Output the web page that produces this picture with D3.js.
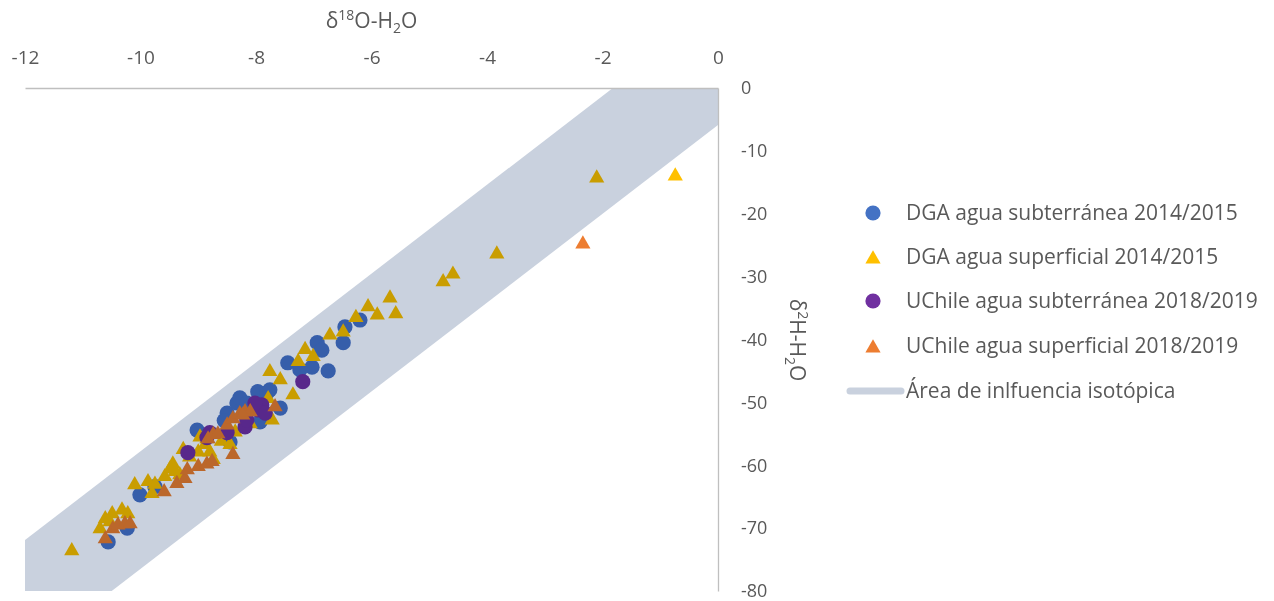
<!DOCTYPE html>
<html>
<head>
<meta charset="utf-8">
<script src="https://cdn.jsdelivr.net/npm/d3@7"></script>
<style>
  html, body { margin: 0; padding: 0; background: #fff; }
  text { font-family: "Open Sans", "Noto Sans", sans-serif; fill: #595959; }
</style>
</head>
<body>
<svg id="chart" width="1274" height="601"></svg>
<script>
// δ18O (x) and δ2H (y) of each sample, per campaign
const dgaSubX = [-10.56,-10.23,-10.01,-9.75,-9.02,-8.50,-8.33,-8.28,-8.16,-7.97,-7.81,-8.02,-7.58,-7.93,-8.45,-7.45,-7.24,-7.03,-6.75,-6.94,-6.86,-6.49,-6.46,-6.20,-7.76,-8.55];
const dgaSubY = [-72.2,-70.0,-64.7,-63.4,-54.4,-51.7,-50.1,-49.3,-50.1,-48.3,-48.5,-50.9,-50.9,-53.1,-56.3,-43.7,-44.8,-44.4,-45.0,-40.5,-41.7,-40.5,-38.0,-36.9,-48.0,-52.9];

const dgaSupX = [-11.19,-10.70,-10.61,-10.53,-10.49,-10.32,-10.22,-10.10,-9.87,-9.80,-9.75,-9.58,-9.49,-9.44,-9.40,-9.32,-9.26,-9.00,-8.88,-8.80,-8.74,-8.97,-8.85,-8.45,-8.36,-7.79,-7.72,-7.36,-7.58,-7.76,-7.27,-7.15,-7.01,-6.72,-6.49,-6.27,-6.06,-5.90,-5.68,-5.58,-4.76,-4.59,-3.83,-2.10,-0.74,-8.10,-9.15,-8.60];
const dgaSupY = [-73.3,-69.8,-68.2,-68.7,-67.4,-66.8,-67.4,-62.8,-62.3,-64.2,-62.7,-61.5,-60.3,-59.5,-60.7,-61.2,-57.2,-57.6,-56.4,-57.6,-58.8,-55.2,-55.5,-56.4,-54.4,-49.1,-52.5,-48.5,-46.1,-44.8,-43.2,-41.3,-42.4,-39.0,-38.5,-36.2,-34.5,-35.8,-33.1,-35.6,-30.5,-29.3,-26.1,-14.0,-13.7,-53.1,-58.4,-55.9];

const ucSubX = [-9.18,-8.85,-8.50,-8.19,-8.16,-7.90,-7.97,-7.84,-8.02,-7.19,-8.80];
const ucSubY = [-58.0,-55.6,-54.8,-53.9,-52.8,-50.4,-51.2,-51.7,-50.1,-46.7,-54.8];

const ucSupX = [-10.61,-10.48,-10.39,-10.27,-10.18,-9.59,-9.37,-9.23,-9.19,-9.00,-8.85,-8.76,-8.40,-8.83,-8.74,-8.66,-8.50,-8.40,-8.28,-8.19,-8.10,-7.67,-8.23,-2.34];
const ucSupY = [-71.4,-69.8,-69.2,-69.0,-69.0,-63.9,-62.6,-61.8,-60.4,-59.9,-59.5,-59.1,-58.0,-55.5,-54.8,-54.7,-53.3,-52.3,-51.5,-51.2,-51.2,-50.4,-51.7,-24.5];

// isotopic influence band: two parallel edges
const bandX = [-12, 0];
const bandUpper = [-71.9, 12.86];
const bandLower = [-90.6, -5.9];

const xTicks = [-12, -10, -8, -6, -4, -2, 0];
const yTicks = [0, -10, -20, -30, -40, -50, -60, -70, -80];

const seriesNames = [
  "DGA agua subterránea 2014/2015",
  "DGA agua superficial 2014/2015",
  "UChile agua subterránea 2018/2019",
  "UChile agua superficial 2018/2019",
  "Área de inlfuencia isotópica"
];
const colors = ["#4472C4", "#FFC000", "#7030A0", "#ED7D31"];
const bandColor = "#C9D1DE";

const svg = d3.select("#chart");
const plotL = 25, plotR = 718, plotT = 88, plotB = 591;

const x = d3.scaleLinear().domain([-12, 0]).range([plotL, plotR]);
const y = d3.scaleLinear().domain([-80, 0]).range([plotB, plotT]);

svg.append("defs").append("clipPath").attr("id", "plotClip")
  .append("rect").attr("x", plotL).attr("y", plotT)
  .attr("width", plotR - plotL).attr("height", plotB - plotT);

const tri = "M0,-6.8L7.6,6.4L-7.6,6.4Z";

function drawSeries(xs, ys, color, shape) {
  const g = svg.append("g").attr("clip-path", "url(#plotClip)");
  const pts = xs.map((v, i) => [v, ys[i]]);
  if (shape === "circle") {
    g.selectAll("circle").data(pts).join("circle")
      .attr("cx", d => x(d[0])).attr("cy", d => y(d[1]))
      .attr("r", 7.6).attr("fill", color);
  } else {
    g.selectAll("path").data(pts).join("path")
      .attr("transform", d => `translate(${x(d[0])},${y(d[1])})`)
      .attr("d", tri).attr("fill", color);
  }
}

drawSeries(dgaSubX, dgaSubY, colors[0], "circle");
drawSeries(dgaSupX, dgaSupY, colors[1], "triangle");
drawSeries(ucSubX, ucSubY, colors[2], "circle");
drawSeries(ucSupX, ucSupY, colors[3], "triangle");

// band laid over the samples
const bandPts = bandX.map((v, i) => [v, bandUpper[i]])
  .concat(bandX.slice().reverse().map((v, i) => [v, bandLower[bandX.length - 1 - i]]));
svg.append("path")
  .attr("clip-path", "url(#plotClip)")
  .attr("d", d3.line().x(d => x(d[0])).y(d => y(d[1]))(bandPts) + "Z")
  .attr("fill", bandColor)
  .style("mix-blend-mode", "multiply");

// axes (plain hyphen for negative numbers)
const fmt = d => String(d);
const xAxis = svg.append("g").attr("transform", `translate(0,${y(0)})`)
  .call(d3.axisTop(x).tickValues(xTicks).tickSize(0).tickPadding(24).tickFormat(fmt));
xAxis.select(".domain").attr("stroke", "#BFBFBF").attr("stroke-width", 1.3);
xAxis.selectAll("text").style("font-size", "19px").attr("fill", "#595959");

const yAxis = svg.append("g").attr("transform", `translate(${x(0)},0)`)
  .call(d3.axisRight(y).tickValues(yTicks).tickSize(0).tickPadding(23).tickFormat(fmt));
yAxis.select(".domain").attr("stroke", "#BFBFBF").attr("stroke-width", 1.3);
yAxis.selectAll("text").style("font-size", "18px").attr("fill", "#595959");
svg.selectAll(".tick text").style("font-family", "'Open Sans', sans-serif");

// axis titles
const tx = svg.append("text").attr("x", (plotL + plotR) / 2).attr("y", 28)
  .attr("text-anchor", "middle").style("font-size", "21px");
tx.append("tspan").text("δ");
tx.append("tspan").text("18").attr("dy", -8).style("font-size", "14px");
tx.append("tspan").text("O-H").attr("dy", 8);
tx.append("tspan").text("2").attr("dy", 5).style("font-size", "14px");
tx.append("tspan").text("O").attr("dy", -5);

const ty = svg.append("text").attr("transform", "translate(790,340) rotate(90)")
  .attr("text-anchor", "middle").style("font-size", "21px");
ty.append("tspan").text("δ");
ty.append("tspan").text("2").attr("dy", -8).style("font-size", "14px");
ty.append("tspan").text("H-H").attr("dy", 8);
ty.append("tspan").text("2").attr("dy", 5).style("font-size", "14px");
ty.append("tspan").text("O").attr("dy", -5);

// legend
const legRows = [213, 257, 301, 346, 391];
const leg = svg.append("g");
leg.append("circle").attr("cx", 873).attr("cy", legRows[0]).attr("r", 7.6).attr("fill", colors[0]);
leg.append("path").attr("transform", `translate(873,${legRows[1]})`).attr("d", tri).attr("fill", colors[1]);
leg.append("circle").attr("cx", 873).attr("cy", legRows[2]).attr("r", 7.6).attr("fill", colors[2]);
leg.append("path").attr("transform", `translate(873,${legRows[3]})`).attr("d", tri).attr("fill", colors[3]);
leg.append("line").attr("x1", 850).attr("x2", 901).attr("y1", legRows[4]).attr("y2", legRows[4])
  .attr("stroke", bandColor).attr("stroke-width", 7).attr("stroke-linecap", "round");
seriesNames.forEach((name, i) => {
  leg.append("text").attr("x", 906).attr("y", legRows[i]).attr("dy", "0.35em")
    .style("font-size", "21px").text(name);
});
</script>
</body>
</html>
